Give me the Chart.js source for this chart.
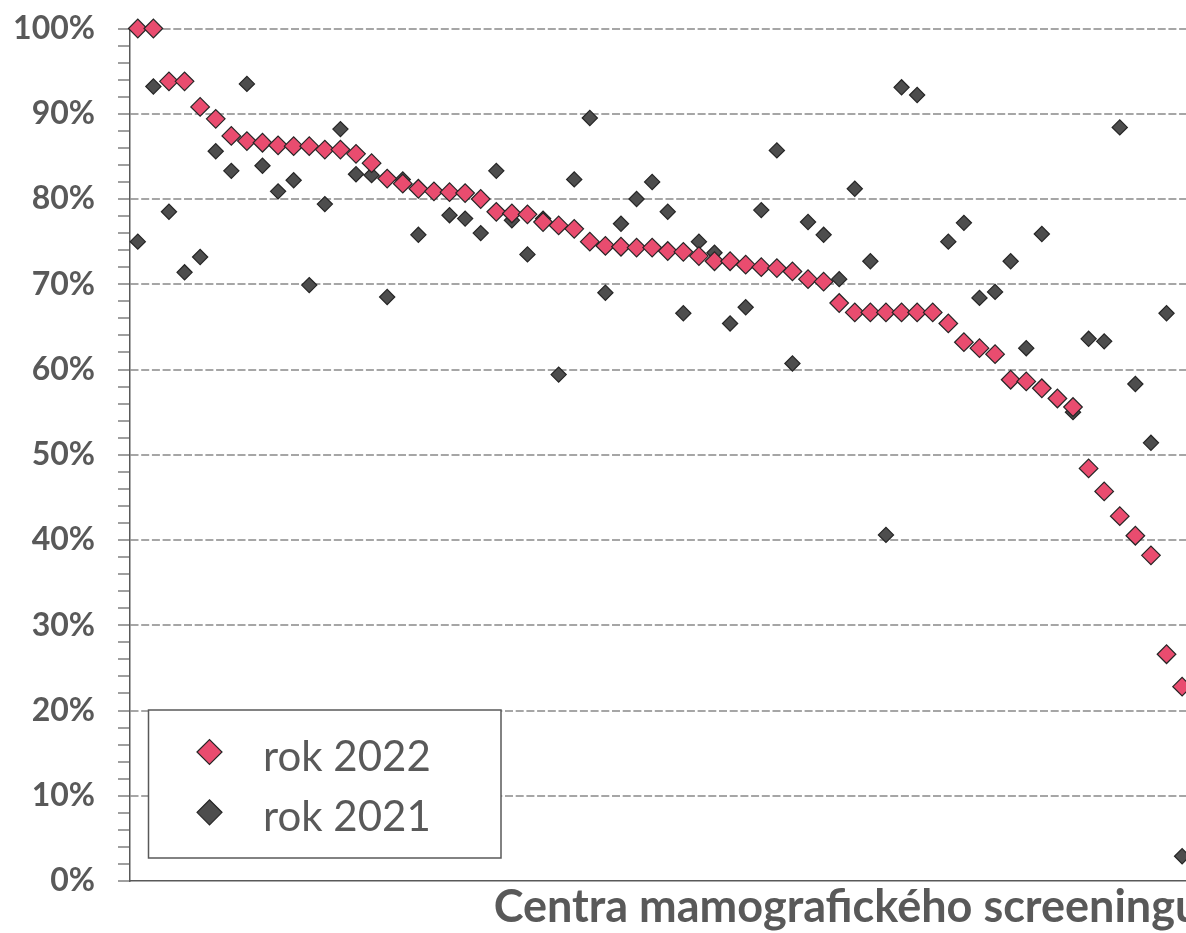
<!DOCTYPE html>
<html><head><meta charset="utf-8">
<script src="https://cdn.jsdelivr.net/npm/chart.js@4.4.1/dist/chart.umd.min.js"></script>
<style>
html,body{margin:0;padding:0;background:#fff;overflow:hidden;}
#wrap{position:relative;width:1186px;height:933px;overflow:hidden;background:#fff;}
canvas{display:block;}
</style></head><body>
<div id="wrap"><canvas id="c" width="1564" height="950" style="width:1564px;height:950px"></canvas></div>
<script>
// ---- data (only the visible centres) ----
const centres = Array.from({length: 68}, (_, i) => i + 1);
const rok2022 = [100,100,93.8,93.8,90.8,89.4,87.4,86.8,86.6,86.3,86.2,86.2,85.8,85.8,85.3,84.2,82.4,81.8,81.2,80.9,
  80.8,80.7,80.0,78.5,78.3,78.2,77.3,76.9,76.5,75.0,74.5,74.4,74.3,74.3,73.9,73.8,73.3,72.7,72.7,72.3,
  72.0,71.9,71.5,70.6,70.3,67.8,66.7,66.7,66.7,66.7,66.7,66.7,65.4,63.2,62.5,61.8,58.8,58.6,57.8,56.6,
  55.6,48.4,45.7,42.8,40.5,38.2,26.6,22.8];
const rok2021 = [75.0,93.2,78.5,71.4,73.2,85.6,83.3,93.5,83.9,80.9,82.2,69.9,79.4,88.2,82.9,82.8,68.5,82.3,75.8,81.0,
  78.1,77.7,76.0,83.3,77.5,73.5,77.7,59.4,82.3,89.5,69.0,77.1,80.0,82.0,78.5,66.6,75.0,73.7,65.4,67.3,
  78.7,85.7,60.7,77.3,75.8,70.6,81.2,72.7,40.6,93.1,92.2,66.7,75.0,77.2,68.4,69.1,72.7,62.5,75.9,56.6,
  55.0,63.6,63.3,88.4,58.3,51.4,66.6,2.9];
const seriesLabels = ['rok 2022', 'rok 2021'];
const yTickValues = [0,10,20,30,40,50,60,70,80,90,100];
const xAxisTitle = 'Centra mamografického screeningu';
const xCategoryCount = 92; // plot continues past the cropped right edge

// ---- styles ----
const PINK = '#E94C6F', DARK = '#4D4D4D', EDGE = '#262626', TEXT = '#595959';
const FONT = 'Lato, "Open Sans", sans-serif';

const toPoints = arr => arr.map((v, i) => ({x: centres[i], y: v}));

const boxLegend = {
  id: 'boxLegend',
  afterDraw(chart) {
    const ctx = chart.ctx;
    const bx = 148.5, by = 710, bw = 352.5, bh = 148;
    ctx.save();
    ctx.fillStyle = '#fff';
    ctx.fillRect(bx, by, bw, bh);
    ctx.lineWidth = 1.5;
    ctx.strokeStyle = TEXT;
    ctx.strokeRect(bx, by, bw, bh);
    const rows = [752, 812.3];
    chart.data.datasets.forEach((ds, i) => {
      const cx = 209.5, cy = rows[i], r = 12.5;
      ctx.beginPath();
      ctx.moveTo(cx - r, cy); ctx.lineTo(cx, cy - r); ctx.lineTo(cx + r, cy); ctx.lineTo(cx, cy + r); ctx.closePath();
      ctx.fillStyle = ds.backgroundColor; ctx.fill();
      ctx.lineWidth = 1.2; ctx.strokeStyle = ds.borderColor; ctx.stroke();
      ctx.fillStyle = TEXT;
      ctx.font = '42px ' + FONT;
      ctx.textBaseline = 'alphabetic';
      ctx.textAlign = 'left';
      ctx.fillText(ds.label, 263, cy + 19);
    });
    ctx.restore();
  }
};

new Chart(document.getElementById('c'), {
  type: 'scatter',
  data: {
    datasets: [
      {label: seriesLabels[0], data: toPoints(rok2022), pointStyle: 'rectRot', pointRadius: 9.3, pointHoverRadius: 9.3,
       backgroundColor: PINK, borderColor: EDGE, borderWidth: 1.2, clip: false},
      {label: seriesLabels[1], data: toPoints(rok2021), pointStyle: 'rectRot', pointRadius: 7.6, pointHoverRadius: 7.6,
       backgroundColor: DARK, borderColor: EDGE, borderWidth: 1.2, clip: false}
    ]
  },
  options: {
    responsive: false,
    animation: false,
    devicePixelRatio: 1,
    layout: {autoPadding: false, padding: {top: 28.5, left: 0, right: 0, bottom: 0}},
    plugins: {legend: {display: false}, tooltip: {enabled: false}},
    scales: {
      x: {
        type: 'linear', min: 0.5, max: xCategoryCount + 0.5,
        ticks: {display: false},
        grid: {display: false, drawTicks: false},
        border: {display: true, color: TEXT, width: 1.5},
        title: {display: true, text: xAxisTitle, color: TEXT,
                font: {family: FONT, size: 45, weight: 'bold', lineHeight: 1.0}, padding: {top: 0, bottom: 20}},
        afterFit: s => { s.height = 69; s.paddingLeft = 0; s.paddingRight = 0; }
      },
      y: {
        type: 'linear', min: 0, max: 100,
        ticks: {
          stepSize: 2, autoSkip: false, padding: 23, color: TEXT,
          font: {family: FONT, size: 32, weight: 'bold'},
          callback: v => yTickValues.includes(v) ? v + '%' : ''
        },
        grid: {
          color: c => (c.tick && c.tick.value % 10 === 0 && c.tick.value > 0) ? '#A6A6A6' : 'rgba(0,0,0,0)',
          lineWidth: 2, tickLength: 12, tickColor: '#7F7F7F', tickWidth: 1.5
        },
        border: {display: true, color: TEXT, width: 1.5, dash: [8, 2.7]},
        afterFit: s => { s.width = 130; s.paddingTop = 0; s.paddingBottom = 0; }
      }
    }
  },
  plugins: [boxLegend]
});
</script>
</body></html>
